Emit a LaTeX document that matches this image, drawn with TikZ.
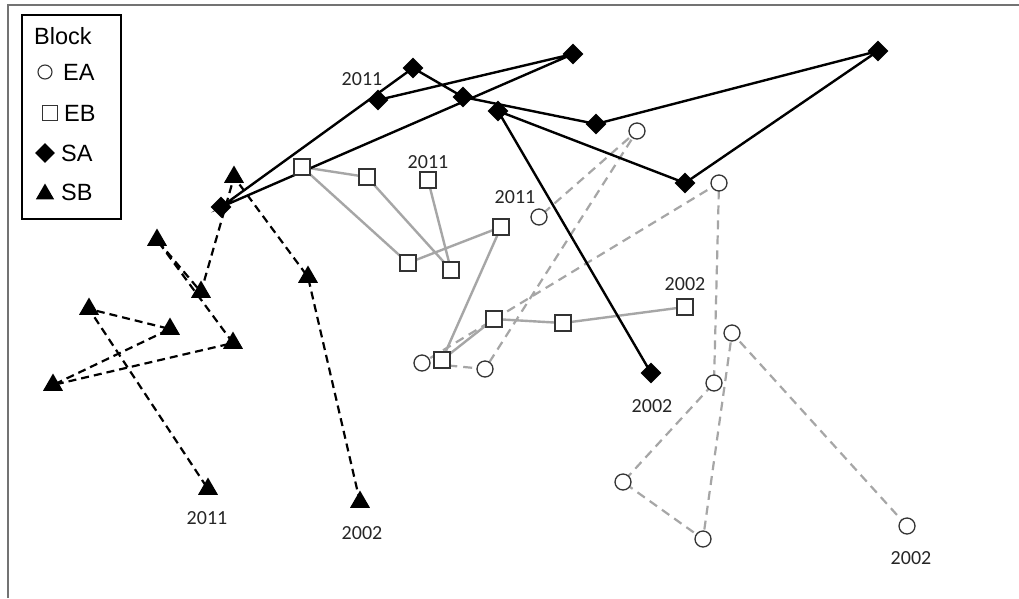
\documentclass[tikz,border=0pt]{standalone}
\usepackage{fontspec}
\newfontfamily\labfont{Carlito}
\newfontfamily\legfont{Liberation Sans}
\usetikzlibrary{shapes.geometric}
\pgfdeclarelayer{back}
\pgfdeclarelayer{bg}
\pgfsetlayers{back,bg,main}
\tikzset{
 sa/.style={diamond, fill=black, draw=none, inner sep=0pt, minimum width=21pt, minimum height=21pt},
 sb/.style={regular polygon, regular polygon sides=3, fill=black, draw=none, inner sep=0pt, minimum size=23pt},
 ea/.style={circle, draw=black!80, line width=1.3pt, fill=white, inner sep=0pt, minimum size=16pt},
 eb/.style={rectangle, draw=black!80, line width=1.3pt, fill=white, inner sep=0pt, minimum size=16pt},
 saline/.style={black, line width=2.4pt},
 sbline/.style={black, line width=2.2pt, dash pattern=on 8pt off 5pt},
 ealine/.style={black!35, line width=2.2pt, dash pattern=on 9pt off 6pt},
 ebline/.style={black!35, line width=2.4pt},
 yr/.style={font=\labfont\fontsize{20}{20}\selectfont, text=black!85, inner sep=0pt},
 lg/.style={font=\legfont\fontsize{23.5}{23.5}\selectfont, inner sep=0pt, anchor=west},
}
\begin{document}
\begin{tikzpicture}[x=1pt,y=-1pt]
\useasboundingbox (0,0) rectangle (1019,598);
\begin{pgfonlayer}{back}
\fill[white] (0,0) rectangle (1019,598);
\end{pgfonlayer}
\draw[black!55, line width=1.6pt] (8,598) -- (8,5) -- (1019,5);

% SA diamonds
\node[sa] (A) at (221,207) {};
\node[sa] (B) at (378,100) {};
\node[sa] (C) at (413,68) {};
\node[sa] (D) at (463,97) {};
\node[sa] (E) at (498,111) {};
\node[sa] (F) at (573,54) {};
\node[sa] (G) at (596,124) {};
\node[sa] (H) at (685,183) {};
\node[sa] (I) at (878,51) {};
\node[sa] (J) at (651,373) {};

% SB triangles
\node[sb] (T1) at (234,177) {};
\node[sb] (T2) at (157,240) {};
\node[sb] (T3) at (201,292) {};
\node[sb] (T4) at (308,277) {};
\node[sb] (T5) at (89,309) {};
\node[sb] (T6) at (170,329) {};
\node[sb] (T7) at (233,343) {};
\node[sb] (T8) at (53,385) {};
\node[sb] (T9) at (208,489) {};
\node[sb] (T10) at (360,502) {};

% EB squares
\node[eb] (S1) at (685,307) {};
\node[eb] (S2) at (563,323) {};
\node[eb] (S3) at (494,319) {};
\node[eb] (S4) at (442,360) {};
\node[eb] (S5) at (501,227) {};
\node[eb] (S6) at (408,263) {};
\node[eb] (S7) at (451,270) {};
\node[eb] (S8) at (367,177) {};
\node[eb] (S9) at (302,167) {};
\node[eb] (S10) at (428,180) {};

% EA circles
\node[ea] (C1) at (907,526) {};
\node[ea] (C2) at (732,333) {};
\node[ea] (C3) at (703,539) {};
\node[ea] (C4) at (623,482) {};
\node[ea] (C5) at (714,383) {};
\node[ea] (C6) at (719,183) {};
\node[ea] (C7) at (422,363) {};
\node[ea] (C8) at (485,369) {};
\node[ea] (C9) at (637,131) {};
\node[ea] (C10) at (539,217) {};

\begin{pgfonlayer}{bg}
\draw[ealine] (C1.center) -- (C2.center) -- (C3.center) -- (C4.center) -- (C5.center) -- (C6.center) -- (C7.center) -- (C8.center) -- (C9.center) -- (C10.center);
\draw[ebline] (S1.center) -- (S2.center) -- (S3.center) -- (S4.center) -- (S5.center) -- (S6.center) -- (S9.center) -- (S8.center) -- (S7.center) -- (S10.center);
\draw[sbline] (T10.center) -- (T4.center) -- (T1.center) -- (T3.center) -- (T2.center) -- (T7.center) -- (T8.center) -- (T6.center) -- (T5.center) -- (T9.center);
\draw[saline] (J.center) -- (E.center) -- (H.center) -- (I.center) -- (G.center) -- (D.center) -- (C.center) -- (A.center) -- (F.center) -- (B.center);
\end{pgfonlayer}

% year labels
\node[yr] (lB) at (362,79) {2011};
\node[yr] (lS10) at (428,162) {2011};
\node[yr] (lC10) at (515,197) {2011};
\node[yr] (lS1) at (685,284) {2002};
\node[yr] (lJ) at (652,406) {2002};
\node[yr] (lC1) at (911,558) {2002};
\node[yr] (lT9) at (207,518) {2011};
\node[yr] (lT10) at (362,533) {2002};

% legend
\draw[black, line width=1.2pt] (22,15) rectangle (121,219);
\node[lg] (lgt) at (34,36) {Block};
\node[ea, minimum size=14pt, line width=1.1pt] (lgea) at (45,72) {};
\node[lg] (lgeat) at (63,72) {EA};
\node[eb, minimum size=15pt, line width=1.1pt] (lgeb) at (50,113) {};
\node[lg] (lgebt) at (64,113) {EB};
\node[sa, minimum width=20pt, minimum height=20pt] (lgsa) at (45,153) {};
\node[lg] (lgsat) at (61,153) {SA};
\node[sb, minimum size=21pt] (lgsb) at (45,194) {};
\node[lg] (lgsbt) at (61,192) {SB};
\end{tikzpicture}
\end{document}
